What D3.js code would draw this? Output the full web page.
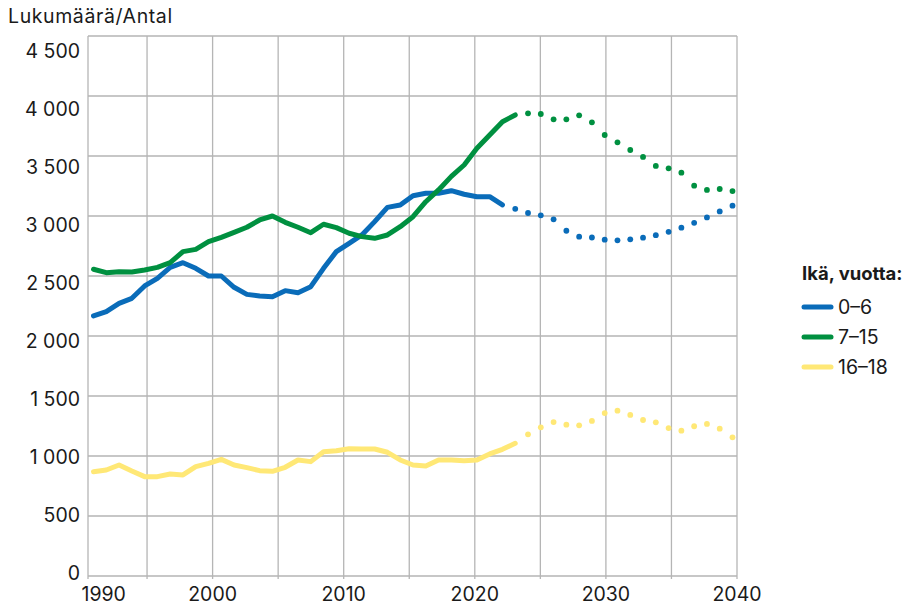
<!DOCTYPE html>
<html><head><meta charset="utf-8">
<script src="https://cdn.jsdelivr.net/npm/d3@7"></script>
<style>
html,body{margin:0;padding:0;background:#fff;}
svg text{font-family:Inter,"Noto Sans",sans-serif;fill:#1a1a1a;}
</style></head>
<body><svg id="c" width="906" height="607"></svg>
<script>
// ---- data ----
const seriesNames = ["0–6", "7–15", "16–18"];
const colors = ["#0a6cb9", "#009040", "#ffe876"];
const yTicks = [0, 500, 1000, 1500, 2000, 2500, 3000, 3500, 4000, 4500];
const xTickLabels = [1990, 2000, 2010, 2020, 2030, 2040];
const xGridYears = [1995, 2000, 2005, 2010, 2015, 2020, 2025, 2030, 2035];

const age0_6_actual = [2167, 2203, 2272, 2314, 2417, 2481, 2572, 2611, 2564, 2500,
  2500, 2406, 2347, 2333, 2328, 2378, 2361, 2411, 2564, 2703,
  2772, 2842, 2953, 3072, 3092, 3169, 3189, 3189, 3211, 3181,
  3161, 3161, 3092]; // 1990–2022
const age0_6_projection = [3060, 3025, 3006, 2972, 2877, 2828, 2821, 2803, 2797, 2806,
  2819, 2840, 2868, 2903, 2943, 2988, 3038, 3086]; // 2023–2040

const age7_15_actual = [2556, 2528, 2536, 2533, 2550, 2572, 2611, 2703, 2722, 2786,
  2822, 2864, 2906, 2967, 3000, 2947, 2906, 2861, 2931, 2903,
  2856, 2828, 2814, 2842, 2911, 2994, 3119, 3217, 3330, 3425,
  3564, 3675, 3786, 3842]; // 1990–2023
const age7_15_projection = [3856, 3850, 3806, 3806, 3839, 3781, 3675, 3614, 3550, 3492,
  3417, 3397, 3361, 3253, 3217, 3225, 3208]; // 2024–2040

const age16_18_actual = [869, 883, 925, 875, 828, 828, 850, 842, 911, 939,
  972, 925, 903, 878, 872, 906, 967, 953, 1036, 1044,
  1061, 1058, 1058, 1031, 967, 925, 917, 967, 967, 961,
  967, 1017, 1056, 1106]; // 1990–2023
const age16_18_projection = [1181, 1239, 1283, 1261, 1256, 1292, 1358, 1378, 1342, 1300,
  1281, 1233, 1211, 1248, 1267, 1228, 1156]; // 2024–2040

const actualSeries = [age0_6_actual, age7_15_actual, age16_18_actual];
const projSeries = [age0_6_projection, age7_15_projection, age16_18_projection];

// ---- layout ----
const svg = d3.select("#c");
const L = 88, R = 737, T = 36, B = 576;
const xData = d3.scaleLinear().domain([1990, 2040]).range([93.5, 732.5]);
const xGrid = d3.scaleLinear().domain([1990, 2040]).range([81.5, 737]);
const y = d3.scaleLinear().domain([0, 4500]).range([B, T]);
const yLab = d3.scaleLinear().domain([0, 4500]).range([573, 51]);
const fmt = d3.formatLocale({decimal: ",", thousands: " ", grouping: [3], currency: ["", ""]}).format(",d");
const gridColor = "#b5b5b5";

const g = svg.append("g");
g.selectAll(".hg").data(yTicks).join("line")
  .attr("x1", L).attr("x2", R)
  .attr("y1", d => y(d)).attr("y2", d => y(d))
  .attr("stroke", gridColor).attr("stroke-width", 1.3);
g.selectAll(".vg").data(xGridYears).join("line")
  .attr("x1", d => xGrid(d)).attr("x2", d => xGrid(d))
  .attr("y1", T).attr("y2", B + 3)
  .attr("stroke", gridColor).attr("stroke-width", 1.3);
[L, R].forEach(xx => g.append("line").attr("x1", xx).attr("x2", xx).attr("y1", T).attr("y2", B + 3)
  .attr("stroke", gridColor).attr("stroke-width", 1.3));

svg.selectAll(".yl").data(yTicks).join("text")
  .attr("x", 80).attr("y", d => yLab(d)).attr("dy", "0.36em")
  .attr("text-anchor", "end").attr("font-size", 19.5).text(d => fmt(d));
svg.selectAll(".xl").data(xTickLabels).join("text")
  .attr("x", d => xGrid(d)).attr("y", 601)
  .attr("text-anchor", (d, i) => i === 0 ? "start" : "middle")
  .attr("font-size", 19.5).text(d => d);
svg.append("text").attr("x", 8).attr("y", 23).attr("font-size", 19.5)
  .attr("letter-spacing", 0.6).text("Lukumäärä/Antal");

const line = d3.line().x(d => xData(d[0])).y(d => y(d[1]));
actualSeries.forEach((vals, i) => {
  const pts = vals.map((v, k) => [1990 + k, v]);
  svg.append("path").attr("d", line(pts)).attr("fill", "none")
    .attr("stroke", colors[i]).attr("stroke-width", 5)
    .attr("stroke-linejoin", "round").attr("stroke-linecap", "round");
});
projSeries.forEach((vals, i) => {
  const start = 1990 + actualSeries[i].length;
  const pts = vals.map((v, k) => [start + k, v]);
  svg.append("g").selectAll("circle").data(pts).join("circle")
    .attr("cx", d => xData(d[0])).attr("cy", d => y(d[1]))
    .attr("r", 2.9).attr("fill", colors[i]);
});

const lg = svg.append("g");
lg.append("text").attr("x", 802).attr("y", 280).attr("font-size", 18.5).attr("font-weight", 700).text("Ikä, vuotta:");
seriesNames.forEach((n, i) => {
  const yy = 307 + i * 30;
  lg.append("line").attr("x1", 804).attr("x2", 831).attr("y1", yy).attr("y2", yy)
    .attr("stroke", colors[i]).attr("stroke-width", 5).attr("stroke-linecap", "round");
  lg.append("text").attr("x", 838).attr("y", yy).attr("dy", "0.36em").attr("font-size", 19.5).text(n);
});
</script></body></html>
